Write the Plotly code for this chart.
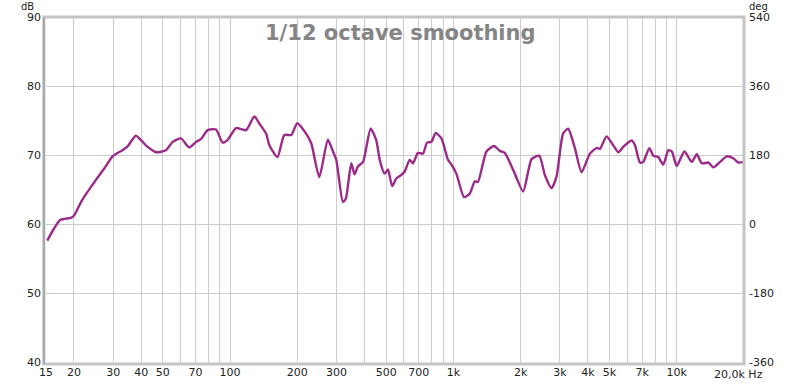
import plotly.graph_objects as go

# Frequency response (Hz, dB)
freq_hz = [15.2, 16.2, 17.4, 19.4, 20.0, 21.8, 25.1, 27.3, 29.8, 33.0, 34.7, 37.9, 42.0, 46.6,
           51.6, 55.4, 60.3, 65.6, 70.4, 74.1, 79.4, 86.5, 92.7, 97.6, 106.4, 118, 128.5, 135,
           145, 150, 163, 175, 188, 200, 219, 231, 251, 274, 289, 299, 320, 330, 349, 361, 373,
           394, 426, 451, 468, 492, 509, 532, 555, 584, 605, 637, 659, 694, 731, 762, 797, 833,
           884, 946, 980, 1031, 1116, 1184, 1247, 1288, 1406, 1521, 1614, 1698, 1883, 2053,
           2239, 2422, 2567, 2750, 2897, 3098, 3263, 3498, 3748, 4085, 4377, 4530, 4850, 5197,
           5475, 5768, 6281, 6501, 6843, 7080, 7536, 7852, 8262, 8705, 9170, 9508, 10000,
           10820, 11670, 12300, 12940, 13860, 14590, 15640, 16750, 17950, 18880, 19900]
spl_db = [57.6, 59.2, 60.6, 60.9, 61.2, 63.5, 66.4, 68.0, 69.8, 70.7, 71.2, 72.8, 71.4, 70.4,
          70.7, 71.9, 72.4, 71.1, 71.9, 72.3, 73.6, 73.7, 71.8, 72.2, 73.9, 73.6, 75.6, 74.6,
          73.1, 71.4, 69.7, 72.9, 72.9, 74.6, 73.1, 71.7, 66.8, 72.2, 70.5, 69.3, 63.2, 63.7,
          68.8, 67.2, 68.3, 69.0, 73.8, 72.2, 69.3, 67.3, 67.9, 65.5, 66.6, 67.1, 67.6, 69.3,
          68.8, 70.3, 70.2, 71.8, 71.9, 73.2, 72.4, 69.3, 68.6, 67.3, 63.9, 64.4, 66.2, 66.1,
          70.5, 71.3, 70.6, 70.3, 67.3, 64.7, 69.4, 69.9, 67.1, 65.2, 66.9, 73.1, 73.8, 71.0,
          67.5, 70.2, 71.0, 70.9, 72.7, 71.4, 70.4, 71.2, 72.1, 71.4, 68.9, 69.0, 71.0, 69.9,
          69.7, 68.6, 70.7, 70.5, 68.4, 70.5, 69.0, 70.1, 68.8, 68.9, 68.2, 69.0, 69.8, 69.5,
          68.9, 69.0]

# Axis ticks
grid_hz = [20, 30, 40, 50, 60, 70, 80, 90, 100, 200, 300, 400, 500, 600, 700, 800, 900,
           1000, 2000, 3000, 4000, 5000, 6000, 7000, 8000, 9000, 10000]
label_hz = {15: "15", 20: "20", 30: "30", 40: "40", 50: "50", 70: "70", 100: "100",
            200: "200", 300: "300", 500: "500", 700: "700", 1000: "1k", 2000: "2k",
            3000: "3k", 4000: "4k", 5000: "5k", 7000: "7k", 10000: "10k"}
db_ticks = [40, 50, 60, 70, 80, 90]
deg_ticks = [-360, -180, 0, 180, 360, 540]
deg_labels = ["-360", "-180", "0", "180", "360", "540"]

tickvals = [15] + grid_hz
ticktext = [label_hz.get(v, "") for v in tickvals]

FONT = "DejaVu Sans"
W, H = 800, 387
L, R, T, B = 46, 56, 17, 25

fig = go.Figure()
fig.add_trace(go.Scatter(x=freq_hz, y=spl_db, mode="lines",
                         line=dict(color="#9c2a8a", width=2.4, shape="spline", smoothing=0.6),
                         showlegend=False, hoverinfo="skip"))
fig.add_trace(go.Scatter(x=[15, 20000], y=[None, None], yaxis="y2", mode="lines",
                         showlegend=False, hoverinfo="skip"))

tf = dict(family=FONT, size=11, color="#222")
sf = dict(family=FONT, size=10, color="#222")
top_y = 1 + T / (H - T - B)
fig.update_layout(
    width=W, height=H,
    margin=dict(l=L, r=R, t=T, b=B, autoexpand=False),
    paper_bgcolor="white", plot_bgcolor="white",
    font=tf,
    xaxis=dict(type="log", range=[1.1761, 4.30103], tickvals=tickvals, ticktext=ticktext,
               showgrid=True, gridcolor="#cccccc", gridwidth=1, zeroline=False,
               ticks="", showline=False, tickfont=tf, automargin=False, ticklabelstandoff=2),
    yaxis=dict(range=[40, 90], tickvals=db_ticks, showgrid=True, gridcolor="#cccccc",
               gridwidth=1, zeroline=False, ticks="", showline=False, tickfont=tf,
               automargin=False, ticklabelstandoff=4),
    yaxis2=dict(range=[-360, 540], tickvals=deg_ticks, ticktext=deg_labels, overlaying="y",
                side="right", showgrid=False, zeroline=False, ticks="", showline=False,
                tickfont=tf, automargin=False, ticklabelstandoff=4),
    shapes=[
        dict(type="rect", xref="paper", yref="paper", x0=-0.003, x1=1.0, y0=-0.006, y1=1.0,
             line=dict(color="#c4c4c4", width=3), layer="above"),
        dict(type="line", xref="paper", yref="paper", x0=-0.003, x1=-0.003, y0=-0.006, y1=1.0,
             line=dict(color="#a8a8a8", width=2), layer="above"),
    ],
    annotations=[
        dict(text="<b>1/12 octave smoothing</b>", xref="paper", yref="paper",
             x=0.508, y=0.955, xanchor="center", yanchor="middle", showarrow=False,
             font=dict(family=FONT, size=21, color="#858585")),
        dict(text="dB", xref="paper", yref="paper", x=-0.016, y=top_y, xanchor="right",
             yanchor="top", showarrow=False, font=sf, borderpad=0),
        dict(text="deg", xref="paper", yref="paper", x=1.006, y=top_y, xanchor="left",
             yanchor="top", showarrow=False, font=sf, borderpad=0),
        dict(text="20,0k Hz", xref="paper", yref="paper", x=1.03, y=0, xanchor="right",
             yanchor="top", yshift=-4, showarrow=False, font=tf),
    ],
)

fig.write_html("out.html", config={"displayModeBar": False},
               post_script="document.body.style.margin='0';document.body.style.padding='0';")
